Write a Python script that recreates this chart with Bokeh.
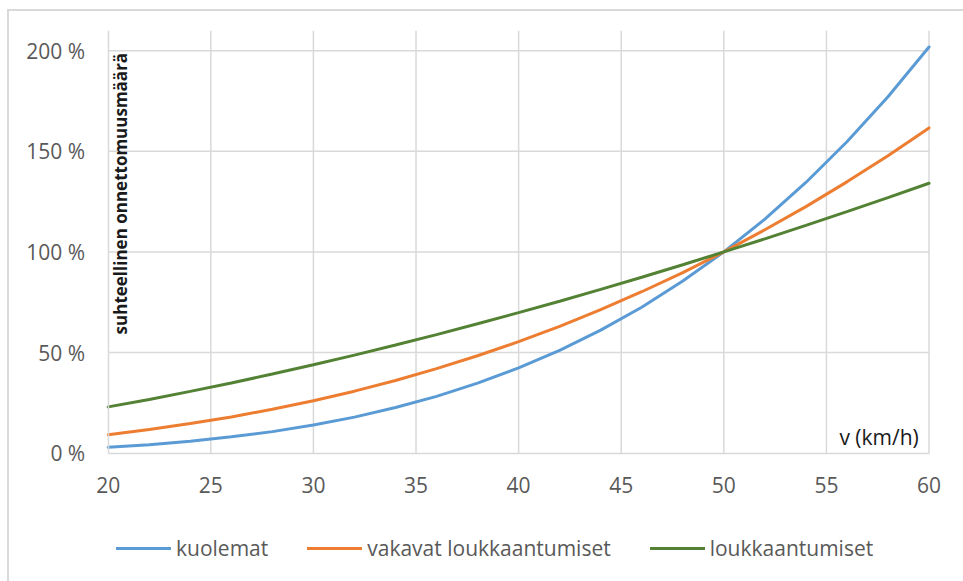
from math import pi

from bokeh.embed import file_html
from bokeh.models import (CustomJSTickFormatter, FixedTicker, Label, Legend,
                          LegendItem, Range1d)
from bokeh.plotting import figure
from bokeh.resources import INLINE

# Speed (km/h) and relative accident counts (%) with 50 km/h = 100 %
speed = [20, 22, 24, 26, 28, 30, 32, 34, 36, 38, 40,
         42, 44, 46, 48, 50, 52, 54, 56, 58, 60]
deaths = [2.9, 4.2, 5.9, 8.1, 10.7, 14.0, 17.9, 22.7, 28.2, 34.8, 42.4,
          51.1, 61.1, 72.5, 85.5, 100.0, 116.3, 134.5, 154.7, 177.1, 201.8]
serious_injuries = [9.2, 11.8, 14.7, 18.0, 21.8, 26.0, 30.8, 36.1, 42.0, 48.4, 55.4,
                    63.0, 71.3, 80.2, 89.7, 100.0, 111.0, 122.5, 134.8, 147.8, 161.6]
injuries = [23.0, 26.7, 30.7, 34.9, 39.3, 43.9, 48.7, 53.7, 58.9, 64.3, 69.8,
            75.5, 81.4, 87.4, 93.6, 100.0, 106.5, 113.2, 120.0, 127.0, 134.1]

series_labels = ["kuolemat", "vakavat loukkaantumiset", "loukkaantumiset"]
series_colors = ["#5B9BD5", "#ED7D31", "#548235"]

x_ticks = [20, 25, 30, 35, 40, 45, 50, 55, 60]
y_ticks = [0, 50, 100, 150, 200]
x_min, x_max = 20, 60
y_top = 210

y_title = "suhteellinen onnettomuusmäärä"
x_title = "v (km/h)"

FONT = "Open Sans"
GRID = "#d9d9d9"
TICK_TEXT = "#595959"

# The plot area covers the whole canvas; both axes are pinned inside it so that
# the tick labels and the legend below the x axis all have room.
p = figure(
    frame_width=954, frame_height=541,
    min_border_left=0, min_border_right=0,
    min_border_top=19, min_border_bottom=10,
    x_range=Range1d(15.19, 61.68), y_range=Range1d(-58.8, y_top),
    output_backend="svg", toolbar_location=None,
)
p.margin = (9, 0, 0, 7)
p.styles = {"border-top": "2px solid #d9d9d9", "border-left": "2px solid #d9d9d9"}
p.outline_line_color = None
p.background_fill_color = "white"
p.border_fill_color = "white"

# axes
p.xaxis.ticker = FixedTicker(ticks=x_ticks)
p.xaxis.fixed_location = 0
p.xaxis.bounds = (x_min, x_max)
p.yaxis.ticker = FixedTicker(ticks=y_ticks)
p.yaxis.fixed_location = x_min
p.yaxis.bounds = (0, y_top)
p.yaxis.formatter = CustomJSTickFormatter(code="return tick.toFixed(0) + ' %';")
for ax in (p.xaxis, p.yaxis):
    ax.axis_line_color = GRID
    ax.axis_line_width = 1.5
    ax.major_tick_line_color = None
    ax.minor_tick_line_color = None
    ax.major_label_text_font = FONT
    ax.major_label_text_font_size = "21px"
    ax.major_label_text_color = TICK_TEXT
p.xaxis.major_label_standoff = 18
p.yaxis.major_label_standoff = 17

# grid lines limited to the data area
p.xgrid.visible = False
p.ygrid.visible = False
grid_x = x_ticks[1:]
p.segment(x0=grid_x, y0=[0] * len(grid_x), x1=grid_x, y1=[y_top] * len(grid_x),
          line_color=GRID, line_width=1.5)
grid_y = y_ticks[1:]
p.segment(x0=[x_min] * len(grid_y), y0=grid_y, x1=[x_max] * len(grid_y), y1=grid_y,
          line_color=GRID, line_width=1.5)

# series
renderers = []
for values, color in zip([deaths, serious_injuries, injuries], series_colors):
    r = p.line(speed, values, line_width=3, line_color=color, line_cap="round")
    renderers.append(r)

legend = Legend(
    items=[LegendItem(label=lab, renderers=[r]) for lab, r in zip(series_labels, renderers)],
    orientation="horizontal",
    location=(107, 9),
    glyph_width=55, glyph_height=24, label_height=24,
    label_standoff=5, spacing=39,
    padding=0, margin=0,
    label_text_font=FONT, label_text_font_size="21px", label_text_color=TICK_TEXT,
    border_line_color=None, background_fill_alpha=0,
)
p.add_layout(legend)

# axis titles drawn inside the data area
p.add_layout(Label(
    x=20.6, y=59, text=y_title, angle=pi / 2,
    text_align="left", text_baseline="middle",
    text_font=FONT, text_font_style="bold", text_font_size="17px",
    text_color="#1a1a1a",
))
p.add_layout(Label(
    x=59.5, y=7.8, text=x_title,
    text_align="right", text_baseline="middle",
    text_font=FONT, text_font_size="21px", text_color="#1a1a1a",
))

open("out.html", "w").write(file_html(p, INLINE))
